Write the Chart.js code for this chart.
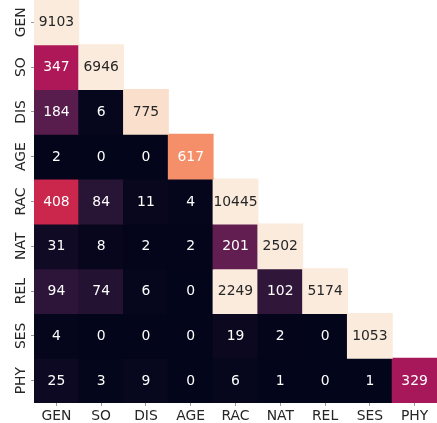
<!DOCTYPE html>
<html>
<head>
<meta charset="utf-8">
<script src="https://cdn.jsdelivr.net/npm/chart.js@4/dist/chart.umd.min.js"></script>
<style>
  html, body { margin: 0; padding: 0; background: #fff; }
  #wrap { width: 437px; height: 423px; }
</style>
</head>
<body>
<div id="wrap"><canvas id="heat"></canvas></div>
<script>
// categories (rows top->bottom, columns left->right)
const cats = ["GEN", "SO", "DIS", "AGE", "RAC", "NAT", "REL", "SES", "PHY"];

// lower triangle, one row per category
const rowGEN = [9103];
const rowSO  = [347, 6946];
const rowDIS = [184, 6, 775];
const rowAGE = [2, 0, 0, 617];
const rowRAC = [408, 84, 11, 4, 10445];
const rowNAT = [31, 8, 2, 2, 201, 2502];
const rowREL = [94, 74, 6, 0, 2249, 102, 5174];
const rowSES = [4, 0, 0, 0, 19, 2, 0, 1053];
const rowPHY = [25, 3, 9, 0, 6, 1, 0, 1, 329];
const rows = [rowGEN, rowSO, rowDIS, rowAGE, rowRAC, rowNAT, rowREL, rowSES, rowPHY];

// colour scale (seaborn "rocket"), clipped at vmax
const vmin = 0, vmax = 800;
const rocketStops = [
  [0.0, "#03051a"], [1 / 7, "#35193e"], [2 / 7, "#701f57"], [3 / 7, "#ad1759"],
  [4 / 7, "#e13342"], [5 / 7, "#f37651"], [6 / 7, "#f6b48f"], [1.0, "#faebdd"]
];

function hexRgb(h) {
  return [parseInt(h.slice(1, 3), 16), parseInt(h.slice(3, 5), 16), parseInt(h.slice(5, 7), 16)];
}

function rocket(v) {
  let t = (v - vmin) / (vmax - vmin);
  t = Math.max(0, Math.min(1, t));
  for (let k = 1; k < rocketStops.length; k++) {
    if (t <= rocketStops[k][0]) {
      const [t0, c0] = rocketStops[k - 1];
      const [t1, c1] = rocketStops[k];
      const f = (t - t0) / (t1 - t0);
      const a = hexRgb(c0), b = hexRgb(c1);
      return a.map((x, i) => Math.round(x + (b[i] - x) * f));
    }
  }
  return hexRgb(rocketStops[rocketStops.length - 1][1]);
}

function luminance(rgb) {
  const lin = rgb.map(c => {
    c = c / 255;
    return c <= 0.03928 ? c / 12.92 : Math.pow((c + 0.055) / 1.055, 2.4);
  });
  return 0.2126 * lin[0] + 0.7152 * lin[1] + 0.0722 * lin[2];
}

const FONT = "13.9px 'DejaVu Sans'";
const TEXT_DARK = "#262626";
const TICK_COLOR = "#9a9a9a";

const datasets = rows.map((vals, i) => ({
  label: cats[i],
  yAxisID: "yv",
  grouped: false,
  barPercentage: 1,
  categoryPercentage: 1,
  borderWidth: 0,
  inflateAmount: 0.5,
  data: cats.map((c, j) => j < vals.length ? [i - 0.5, i + 0.5] : null),
  backgroundColor: cats.map((c, j) => {
    if (j >= vals.length) return "rgba(0,0,0,0)";
    const rgb = rocket(vals[j]);
    return "rgb(" + rgb.join(",") + ")";
  })
}));

// cell annotations
const annotate = {
  id: "annotate",
  afterDatasetsDraw(chart) {
    const ctx = chart.ctx;
    ctx.save();
    ctx.font = FONT;
    ctx.textAlign = "center";
    ctx.textBaseline = "middle";
    rows.forEach((vals, i) => {
      const meta = chart.getDatasetMeta(i);
      vals.forEach((v, j) => {
        const p = meta.data[j].getCenterPoint();
        ctx.fillStyle = luminance(rocket(v)) > 0.408 ? TEXT_DARK : "#ffffff";
        ctx.fillText(String(v), p.x, p.y + 0.5);
      });
    });
    ctx.restore();
  }
};

// rotated y tick labels
const yLabels = {
  id: "yLabels",
  afterDraw(chart) {
    const ctx = chart.ctx;
    const ys = chart.scales.y;
    ctx.save();
    ctx.font = FONT;
    ctx.fillStyle = TEXT_DARK;
    ctx.textAlign = "center";
    ctx.textBaseline = "middle";
    cats.forEach((c, i) => {
      const y = ys.getPixelForTick(i);
      ctx.save();
      ctx.translate(21, y);
      ctx.rotate(-Math.PI / 2);
      ctx.fillText(c, 0, 0);
      ctx.restore();
    });
    ctx.restore();
  }
};

new Chart(document.getElementById("heat"), {
  type: "bar",
  data: { labels: cats, datasets: datasets },
  plugins: [annotate, yLabels],
  options: {
    responsive: true,
    maintainAspectRatio: false,
    animation: false,
    layout: { padding: 0 },
    plugins: { legend: { display: false }, tooltip: { enabled: false } },
    scales: {
      x: {
        type: "category",
        offset: true,
        border: { display: false },
        grid: { offset: false, drawOnChartArea: false, drawTicks: true, tickLength: 3, tickWidth: 1, color: TICK_COLOR },
        ticks: { color: TEXT_DARK, font: { family: "'DejaVu Sans'", size: 13.9 }, padding: 2, maxRotation: 0, minRotation: 0 },
        afterFit(s) { s.height = 20; }
      },
      y: {
        type: "category",
        labels: cats,
        position: "left",
        offset: true,
        border: { display: false },
        grid: { offset: false, drawOnChartArea: false, drawTicks: true, tickLength: 3, tickWidth: 1, color: TICK_COLOR },
        ticks: { display: false },
        afterFit(s) { s.width = 34; }
      },
      yv: {
        type: "linear",
        axis: "y",
        display: false,
        reverse: true,
        min: -0.5,
        max: 8.5
      }
    }
  }
});
</script>
</body>
</html>
